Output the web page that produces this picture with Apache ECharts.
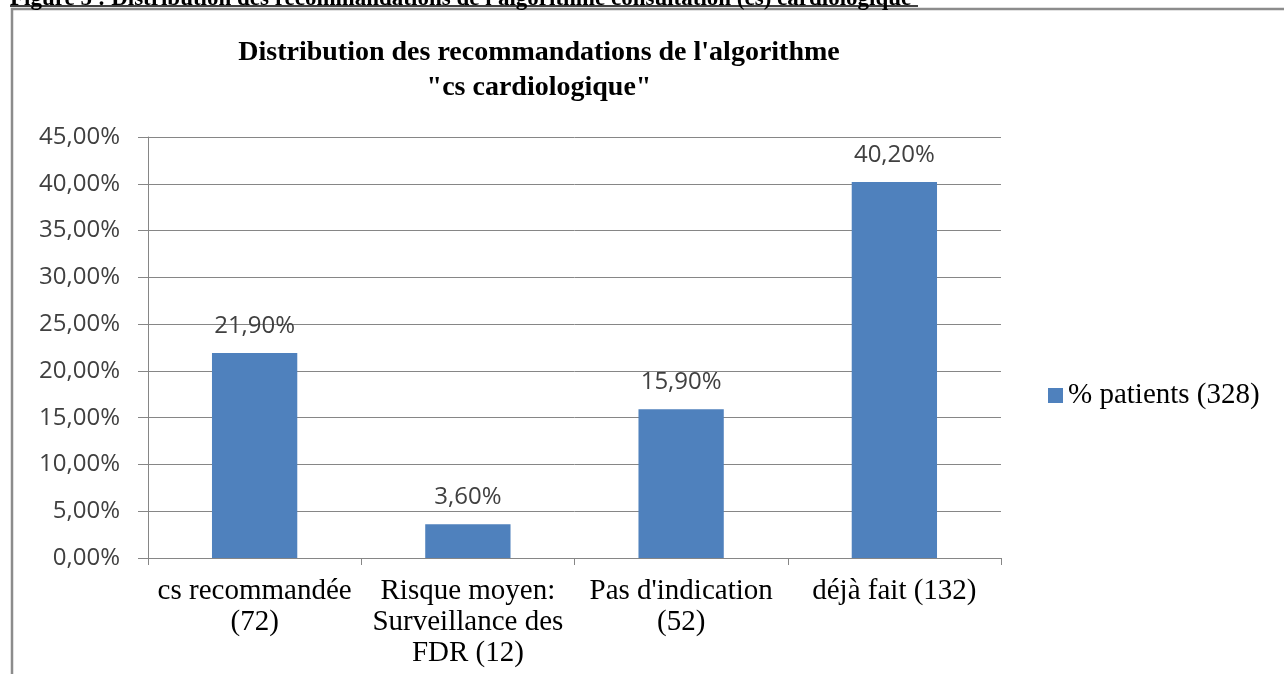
<!DOCTYPE html>
<html>
<head>
<meta charset="utf-8">
<script src="https://cdn.jsdelivr.net/npm/echarts@6/dist/echarts.min.js"></script>
<style>
  html, body { margin: 0; padding: 0; background: #fff; }
  #main { width: 1284px; height: 674px; }
</style>
</head>
<body>
<div id="main"></div>
<script>
var categories = ['cs recommandée\n(72)', 'Risque moyen:\nSurveillance des\nFDR (12)', "Pas d'indication\n(52)", 'déjà fait (132)'];
var patients = [21.9, 3.6, 15.9, 40.2];
var seriesName = '% patients (328)';
var chartTitle = "Distribution des recommandations de l'algorithme\n\"cs cardiologique\"";
var caption = "Figure 5 : Distribution des recommandations de l'algorithme consultation (cs) cardiologique";

function pct(v) {
    return v.toFixed(2).replace('.', ',') + '%';
}

var myChart = echarts.init(document.getElementById('main'));
var option = {
    animation: false,
    title: {
        text: chartTitle,
        left: 534,
        top: 30,
        textAlign: 'center',
        textStyle: {
            fontFamily: 'Liberation Serif',
            fontWeight: 'bold',
            fontSize: 28,
            lineHeight: 35,
            color: '#000'
        }
    },
    legend: {
        data: [seriesName],
        left: 1043,
        top: 376,
        icon: 'rect',
        itemWidth: 15,
        itemHeight: 15,
        itemGap: 6,
        textStyle: {
            fontFamily: 'Liberation Serif',
            fontSize: 29,
            color: '#000'
        }
    },
    grid: {
        left: 148,
        right: 283,
        top: 137,
        bottom: 116
    },
    xAxis: {
        type: 'category',
        data: categories,
        axisLine: {lineStyle: {color: '#868686', width: 1}},
        axisTick: {show: true, length: 7, lineStyle: {color: '#868686'}},
        axisLabel: {
            interval: 0,
            hideOverlap: false,
            margin: 18,
            fontFamily: 'Liberation Serif',
            fontSize: 29,
            lineHeight: 31,
            color: '#000'
        }
    },
    yAxis: {
        type: 'value',
        min: 0,
        max: 45,
        interval: 5,
        axisLine: {show: true, lineStyle: {color: '#868686', width: 1}},
        axisTick: {show: true, length: 10, lineStyle: {color: '#868686'}},
        splitLine: {lineStyle: {color: '#868686', width: 1}},
        axisLabel: {
            margin: 28,
            fontFamily: 'Open Sans',
            fontSize: 24,
            color: '#404040',
            formatter: function (v) { return pct(v); }
        }
    },
    series: [
        {
            name: seriesName,
            type: 'bar',
            data: patients,
            barWidth: '40%',
            itemStyle: {color: '#4F81BD'},
            label: {
                show: true,
                position: 'top',
                distance: 15,
                fontFamily: 'Open Sans',
                fontSize: 24,
                color: '#404040',
                formatter: function (p) { return pct(p.value); }
            }
        }
    ],
    graphic: [
        {
            type: 'rect',
            z: -1,
            shape: {x: 12, y: 9, width: 1300, height: 700},
            style: {fill: null, stroke: '#8c8c8c', lineWidth: 2.5}
        },
        {
            type: 'text',
            x: 10,
            y: -12,
            style: {
                text: caption,
                font: 'bold 23px "Liberation Serif"',
                fill: '#000'
            }
        },
        {
            type: 'line',
            shape: {x1: 10, y1: 6, x2: 918, y2: 6},
            style: {stroke: '#000', lineWidth: 1.5}
        }
    ]
};
myChart.setOption(option);
</script>
</body>
</html>
